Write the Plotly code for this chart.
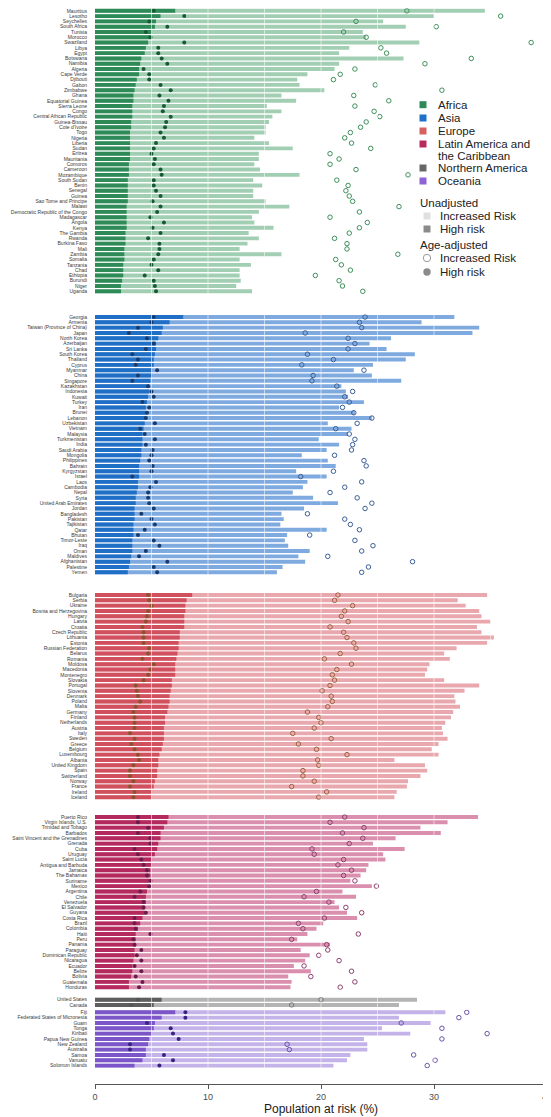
import plotly.graph_objects as go

# ---------------- data ----------------
africa_countries = ["Mauritius", "Lesotho", "Seychelles", "South Africa", "Tunisia", "Morocco", "Swaziland", "Libya", "Egypt", "Botswana", "Namibia", "Algeria", "Cape Verde", "Djibouti", "Gabon", "Zimbabwe", "Ghana", "Equatorial Guinea", "Sierra Leone", "Congo", "Central African Republic", "Guinea-Bissau", "Cote d'Ivoire", "Togo", "Nigeria", "Liberia", "Sudan", "Eritrea", "Mauritania", "Comoros", "Cameroon", "Mozambique", "South Sudan", "Benin", "Senegal", "Guinea", "Sao Tome and Principe", "Malawi", "Democratic Republic of the Congo", "Madagascar", "Angola", "Kenya", "The Gambia", "Rwanda", "Burkina Faso", "Mali", "Zambia", "Somalia", "Tanzania", "Chad", "Ethiopia", "Burundi", "Niger", "Uganda"]
africa_high = [7.1, 5.8, 5.4, 5.3, 5.0, 4.9, 4.7, 4.5, 4.4, 4.1, 4.0, 3.9, 3.9, 3.7, 3.6, 3.5, 3.4, 3.4, 3.3, 3.3, 3.3, 3.2, 3.2, 3.1, 3.1, 3.1, 3.1, 3.1, 3.1, 3.0, 3.0, 3.0, 2.9, 2.9, 2.9, 2.9, 2.9, 2.8, 2.8, 2.8, 2.8, 2.8, 2.7, 2.7, 2.7, 2.6, 2.6, 2.6, 2.5, 2.5, 2.5, 2.4, 2.3, 2.3]
africa_increased = [34.5, 30.0, 25.5, 27.5, 23.7, 24.0, 28.7, 22.5, 21.6, 27.3, 21.6, 21.2, 18.8, 17.9, 18.1, 20.3, 16.5, 17.8, 15.2, 16.5, 15.7, 15.4, 15.1, 15.1, 14.1, 15.4, 17.5, 14.5, 14.5, 14.1, 14.6, 18.1, 14.0, 14.8, 14.0, 14.0, 15.1, 17.2, 14.5, 13.9, 14.1, 15.8, 13.6, 14.5, 13.5, 12.8, 16.5, 12.8, 13.8, 12.8, 12.8, 12.9, 12.5, 13.9]
africa_adj_high = [5.2, 7.9, 4.8, 6.4, 4.5, 4.9, 7.9, 5.6, 5.6, 5.9, 6.4, 4.3, 4.8, 4.8, 5.8, 6.7, 5.7, 6.5, 6.1, 6.0, 6.7, 6.3, 6.2, 5.8, 6.1, 5.4, 5.2, 5.0, 5.3, 5.2, 5.8, 5.9, 5.2, 5.2, 5.4, 5.8, 5.1, 5.8, 5.5, 4.9, 6.1, 5.1, 5.8, 4.7, 5.7, 5.7, 5.6, 5.2, 5.0, 5.6, 4.4, 5.2, 5.3, 5.4]
africa_adj_increased = [27.6, 35.9, 23.1, 30.2, 22.0, 24.0, 38.6, 25.3, 25.8, 33.3, 29.2, 23.0, 21.7, 21.1, 24.8, 30.7, 22.9, 26.0, 23.0, 24.7, 25.2, 24.0, 23.5, 22.6, 22.1, 22.7, 24.4, 20.8, 21.6, 20.8, 23.1, 27.7, 21.4, 22.4, 22.2, 22.5, 22.8, 26.9, 23.4, 20.8, 24.1, 23.4, 22.5, 21.2, 22.3, 22.3, 26.8, 21.3, 21.8, 22.6, 19.5, 21.6, 21.9, 23.7]

asia_countries = ["Georgia", "Armenia", "Taiwan (Province of China)", "Japan", "North Korea", "Azerbaijan", "Sri Lanka", "South Korea", "Thailand", "Cyprus", "Myanmar", "China", "Singapore", "Kazakhstan", "Indonesia", "Kuwait", "Turkey", "Iran", "Brunei", "Lebanon", "Uzbekistan", "Vietnam", "Malaysia", "Turkmenistan", "India", "Saudi Arabia", "Mongolia", "Philippines", "Bahrain", "Kyrgyzstan", "Israel", "Laos", "Cambodia", "Nepal", "Syria", "United Arab Emirates", "Jordan", "Bangladesh", "Pakistan", "Tajikistan", "Qatar", "Bhutan", "Timor-Leste", "Iraq", "Oman", "Maldives", "Afghanistan", "Palestine", "Yemen"]
asia_high = [7.8, 6.6, 6.0, 5.9, 5.6, 5.4, 5.4, 5.3, 5.2, 5.2, 5.0, 5.0, 4.9, 4.8, 4.8, 4.7, 4.6, 4.5, 4.5, 4.5, 4.4, 4.3, 4.2, 4.2, 4.2, 4.1, 4.1, 4.0, 3.9, 3.9, 3.9, 3.8, 3.8, 3.7, 3.6, 3.6, 3.5, 3.5, 3.5, 3.4, 3.4, 3.4, 3.3, 3.3, 3.3, 3.2, 3.1, 3.0, 2.9]
asia_increased = [31.8, 28.9, 34.0, 33.4, 26.2, 24.3, 25.8, 28.3, 27.5, 24.6, 22.9, 24.5, 27.1, 21.8, 22.2, 22.4, 23.8, 21.6, 23.0, 24.5, 20.6, 22.7, 22.4, 19.8, 21.6, 20.5, 18.3, 20.6, 21.3, 17.8, 20.5, 18.8, 18.4, 17.5, 19.3, 21.5, 18.5, 16.5, 16.7, 16.4, 20.5, 17.0, 16.8, 17.1, 19.0, 18.0, 18.6, 16.6, 16.1]
asia_adj_high = [5.2, 5.0, 3.8, 3.0, 4.6, 5.2, 4.5, 3.3, 3.8, 3.6, 5.5, 3.8, 3.3, 4.7, 5.0, 5.2, 4.2, 4.8, 4.6, 4.5, 5.3, 4.0, 4.4, 5.3, 4.5, 5.1, 5.0, 4.8, 5.1, 5.0, 3.3, 5.4, 4.9, 4.7, 4.7, 4.8, 5.2, 4.1, 5.0, 5.3, 4.4, 3.8, 5.2, 5.7, 4.5, 3.9, 6.4, 5.2, 5.5]
asia_adj_increased = [23.9, 23.4, 23.6, 18.6, 22.4, 23.0, 22.4, 18.8, 21.1, 18.3, 23.8, 19.3, 19.2, 21.4, 22.8, 22.1, 22.5, 21.9, 22.9, 24.5, 23.2, 21.3, 22.5, 23.0, 22.8, 22.7, 21.2, 23.8, 24.0, 21.1, 18.2, 23.6, 22.1, 20.8, 23.2, 24.5, 23.9, 18.8, 22.1, 22.6, 23.4, 19.0, 23.0, 24.6, 23.6, 20.6, 28.1, 24.2, 23.6]

europe_countries = ["Bulgaria", "Serbia", "Ukraine", "Bosnia and Herzegovina", "Hungary", "Latvia", "Croatia", "Czech Republic", "Lithuania", "Estonia", "Russian Federation", "Belarus", "Romania", "Moldova", "Macedonia", "Montenegro", "Slovakia", "Portugal", "Slovenia", "Denmark", "Poland", "Malta", "Germany", "Finland", "Netherlands", "Austria", "Italy", "Sweden", "Greece", "Belgium", "Luxembourg", "Albania", "United Kingdom", "Spain", "Switzerland", "Norway", "France", "Ireland", "Iceland"]
europe_high = [8.6, 8.1, 8.0, 8.0, 7.9, 7.9, 7.9, 7.5, 7.5, 7.4, 7.4, 7.3, 7.2, 7.1, 7.1, 7.1, 6.8, 6.8, 6.7, 6.6, 6.6, 6.5, 6.4, 6.2, 6.2, 6.1, 6.1, 6.1, 6.0, 5.9, 5.7, 5.6, 5.6, 5.5, 5.5, 5.3, 5.2, 5.0, 5.0]
europe_increased = [34.7, 32.1, 32.8, 34.0, 34.2, 35.0, 33.8, 34.2, 35.3, 34.7, 32.0, 30.9, 31.4, 29.6, 29.4, 29.2, 30.9, 34.0, 32.7, 31.8, 31.9, 32.3, 31.7, 31.5, 31.0, 30.7, 30.8, 31.2, 30.4, 29.8, 30.4, 26.5, 29.2, 29.4, 28.8, 27.7, 27.6, 26.7, 26.5]
europe_adj_high = [4.7, 4.8, 5.0, 4.7, 4.6, 4.5, 4.2, 4.3, 4.3, 4.3, 4.8, 4.7, 4.2, 5.2, 4.9, 4.7, 4.3, 3.6, 3.7, 3.8, 4.0, 3.6, 3.4, 3.5, 3.5, 3.5, 3.1, 3.5, 3.2, 3.5, 3.8, 3.9, 3.4, 3.1, 3.1, 3.4, 3.1, 3.5, 3.4]
europe_adj_increased = [21.5, 21.2, 22.8, 22.1, 21.8, 22.4, 20.8, 22.0, 22.3, 22.9, 23.1, 21.7, 20.3, 22.7, 21.4, 21.0, 21.2, 20.8, 20.1, 20.9, 21.0, 20.6, 18.8, 19.8, 20.0, 19.4, 17.5, 20.9, 18.0, 19.6, 22.3, 19.7, 19.8, 18.4, 18.4, 19.4, 17.4, 20.5, 19.8]

latam_countries = ["Puerto Rico", "Virgin Islands, U.S.", "Trinidad and Tobago", "Barbados", "Saint Vincent and the Grenadines", "Grenada", "Cuba", "Uruguay", "Saint Lucia", "Antigua and Barbuda", "Jamaica", "The Bahamas", "Suriname", "Mexico", "Argentina", "Chile", "Venezuela", "El Salvador", "Guyana", "Costa Rica", "Brazil", "Colombia", "Haiti", "Peru", "Panama", "Paraguay", "Dominican Republic", "Nicaragua", "Ecuador", "Belize", "Bolivia", "Guatemala", "Honduras"]
latam_high = [6.5, 6.4, 6.1, 5.8, 5.8, 5.6, 5.5, 5.3, 5.0, 5.0, 4.9, 4.9, 4.8, 4.7, 4.6, 4.5, 4.5, 4.4, 4.4, 4.2, 4.0, 3.8, 3.6, 3.6, 3.6, 3.5, 3.5, 3.4, 3.3, 3.3, 3.2, 3.0, 3.0]
latam_increased = [33.9, 31.2, 28.8, 30.6, 26.6, 24.6, 27.4, 25.5, 25.7, 24.2, 24.0, 23.5, 22.6, 24.5, 21.9, 23.1, 21.2, 21.6, 22.3, 23.2, 20.2, 19.6, 18.8, 17.9, 20.8, 18.2, 19.0, 18.6, 17.6, 19.1, 17.1, 17.4, 17.3]
latam_adj_high = [3.8, 3.8, 4.7, 3.8, 4.9, 4.9, 3.5, 3.8, 4.1, 4.3, 4.6, 4.6, 4.9, 4.8, 4.0, 3.5, 4.3, 4.3, 4.5, 3.5, 3.5, 3.6, 4.9, 3.4, 3.5, 4.1, 3.7, 4.1, 3.5, 4.1, 3.6, 4.2, 3.9]
latam_adj_increased = [22.1, 20.8, 23.8, 21.9, 23.7, 22.5, 19.2, 19.4, 22.0, 21.5, 22.7, 22.0, 23.0, 24.9, 19.6, 18.5, 20.7, 22.2, 23.6, 20.3, 18.0, 18.4, 23.3, 17.4, 20.5, 20.6, 19.8, 21.6, 18.5, 22.7, 19.1, 23.0, 21.7]

namerica_countries = ["United States", "Canada"]
namerica_high = [5.9, 5.2]
namerica_increased = [28.5, 26.9]
namerica_adj_high = [3.8, 3.2]
namerica_adj_increased = [20.0, 17.4]

oceania_countries = ["Fiji", "Federated States of Micronesia", "Guam", "Tonga", "Kiribati", "Papua New Guinea", "New Zealand", "Australia", "Samoa", "Vanuatu", "Solomon Islands"]
oceania_high = [7.1, 5.9, 5.3, 5.2, 5.0, 4.8, 4.7, 4.5, 4.5, 4.2, 3.5]
oceania_increased = [31.0, 26.9, 29.7, 25.4, 27.9, 23.8, 24.1, 24.1, 22.6, 22.3, 21.1]
oceania_adj_high = [8.0, 8.0, 4.6, 6.7, 6.9, 7.4, 3.1, 3.1, 6.1, 6.9, 5.7]
oceania_adj_increased = [32.9, 32.2, 27.1, 30.7, 34.7, 30.7, 17.0, 17.2, 28.2, 30.1, 29.4]

region_names = ["Africa", "Asia", "Europe", "Latin America and the Caribbean", "Northern America", "Oceania"]
x_ticks = [0, 10, 20, 30, 40]

# ---------------- styling / layout constants ----------------
# The page body has an 8px margin, so the figure's origin sits at page (8, 8).
OFF = 8
W, H = 551 - OFF, 1117 - OFF
ML, MR, MT, MB = 95 - OFF, 4, 0, 1117 - 1084
PW = W - ML - MR
PH = H - MT - MB

def px_to_py(py_page):
    return (PH - (py_page - OFF - MT)) / PH

def px_to_px(px_page):
    return (px_page - OFF - ML) / PW

# first/last row centre (page px) for each panel
regions = [
    dict(countries=africa_countries, high=africa_high, inc=africa_increased,
         ahigh=africa_adj_high, ainc=africa_adj_increased, first=10.8, last=291.3,
         dark="#2e8b57", light="#a2cfb3", dot="#175a33", circ="#3f8f5c"),
    dict(countries=asia_countries, high=asia_high, inc=asia_increased,
         ahigh=asia_adj_high, ainc=asia_adj_increased, first=317.0, last=572.3,
         dark="#1f6fc6", light="#7eaae0", dot="#1a3b6c", circ="#3b5f98"),
    dict(countries=europe_countries, high=europe_high, inc=europe_increased,
         ahigh=europe_adj_high, ainc=europe_adj_increased, first=595.0, last=797.2,
         dark="#d0505e", light="#e9a7ae", dot="#8a532a", circ="#a0603c"),
    dict(countries=latam_countries, high=latam_high, inc=latam_increased,
         ahigh=latam_adj_high, ainc=latam_adj_increased, first=817.0, last=987.2,
         dark="#b52a5e", light="#d98fad", dot="#6a1d4c", circ="#8e3f6d"),
    dict(countries=namerica_countries, high=namerica_high, inc=namerica_increased,
         ahigh=namerica_adj_high, ainc=namerica_adj_increased, first=999.7, last=1005.0,
         dark="#5e5e5e", light="#b4b4b4", dot="#555555", circ="#777777"),
    dict(countries=oceania_countries, high=oceania_high, inc=oceania_increased,
         ahigh=oceania_adj_high, ainc=oceania_adj_increased, first=1012.3, last=1065.6,
         dark="#7c56c9", light="#c4b3e8", dot="#3b2180", circ="#6c52a8"),
]

FONT_FAMILY = "Liberation Sans, Arial, sans-serif"
fig = go.Figure()
layout = dict(
    width=W, height=H, autosize=False,
    margin=dict(l=ML, r=MR, t=MT, b=MB, pad=0, autoexpand=False),
    paper_bgcolor="white", plot_bgcolor="white",
    barmode="overlay", showlegend=False,
    font=dict(family=FONT_FAMILY, color="#333333"),
    xaxis=dict(domain=[0, 1], anchor="free", position=0, range=[0, 40],
               tickmode="array", tickvals=x_ticks, ticktext=[str(v) for v in x_ticks],
               showgrid=False, zeroline=False, showline=True, linecolor="#555555",
               linewidth=1, ticks="outside", ticklen=4, tickcolor="#555555",
               ticklabeloverflow="allow",
               tickfont=dict(size=9, color="#4d4d4d"), automargin=False),
)
shapes = []
annotations = []

for i, r in enumerate(regions):
    k = i + 1
    ya = "y" if k == 1 else f"y{k}"
    yname = "yaxis" if k == 1 else f"yaxis{k}"
    n = len(r["countries"])
    row = (r["last"] - r["first"]) / (n - 1)
    top = r["first"] - row / 2
    bot = r["last"] + row / 2
    range_top = -0.5
    if top < OFF:
        range_top = -0.5 + (OFF - top) / row
        top = OFF
    layout[yname] = dict(
        domain=[px_to_py(bot), min(1.0, px_to_py(top))], anchor="x",
        type="category", categoryorder="array", categoryarray=r["countries"],
        tickmode="array", tickvals=r["countries"], ticktext=r["countries"],
        range=[n - 0.5, range_top], showgrid=False, zeroline=False, showline=False,
        ticks="", ticklabelstandoff=7, automargin=False,
        tickfont=dict(size=5, color="#3a3a3a"),
    )
    fig.add_trace(go.Bar(x=r["inc"], y=r["countries"], orientation="h", width=0.74,
                         marker=dict(color=r["light"], line=dict(width=0)),
                         xaxis="x", yaxis=ya, name=region_names[i] + " increased risk"))
    fig.add_trace(go.Bar(x=r["high"], y=r["countries"], orientation="h", width=0.74,
                         marker=dict(color=r["dark"], line=dict(width=0)),
                         xaxis="x", yaxis=ya, name=region_names[i] + " high risk"))
    fig.add_trace(go.Scatter(x=r["ainc"], y=r["countries"], mode="markers",
                             marker=dict(symbol="circle-open", size=4.5, color=r["circ"], line=dict(width=1)),
                             xaxis="x", yaxis=ya, name=region_names[i] + " age-adjusted increased"))
    fig.add_trace(go.Scatter(x=r["ahigh"], y=r["countries"], mode="markers",
                             marker=dict(symbol="circle", size=4, color=r["dot"]),
                             xaxis="x", yaxis=ya, name=region_names[i] + " age-adjusted high"))
    yref = "y domain" if k == 1 else f"y{k} domain"
    for v in [5, 10, 15, 20, 25, 30, 35]:
        shapes.append(dict(type="line", xref="x", yref=yref, x0=v, x1=v, y0=0, y1=1,
                           line=dict(color="white", width=1), opacity=0.55, layer="above"))

# x-axis title
annotations.append(dict(text="Population at risk (%)", xref="paper", yref="paper",
                        x=0.5, y=px_to_py(1109), xanchor="center", yanchor="middle",
                        showarrow=False, font=dict(size=12, color="#1a1a1a", family=FONT_FAMILY)))

# ---------------- legend (drawn manually) ----------------
legend_regions = [
    ("Africa", "#2e8b57", 104.7),
    ("Asia", "#1f70c8", 118.0),
    ("Europe", "#d65f5f", 131.0),
    ("Latin America and", "#b82a5e", 144.0),
    ("Northern America", "#666666", 168.0),
    ("Oceania", "#8e63d6", 181.0),
]
LFONT = dict(size=11.5, color="#222222", family=FONT_FAMILY)
for label, col, py in legend_regions:
    cx = 423
    shapes.append(dict(type="rect", xref="paper", yref="paper",
                       x0=px_to_px(cx - 3.5), x1=px_to_px(cx + 3.5),
                       y0=px_to_py(py + 3.5), y1=px_to_py(py - 3.5),
                       fillcolor=col, line=dict(width=0), layer="above"))
    annotations.append(dict(text=label, xref="paper", yref="paper", x=px_to_px(436), y=px_to_py(py),
                            xanchor="left", yanchor="middle", showarrow=False, font=LFONT))
annotations.append(dict(text="the Caribbean", xref="paper", yref="paper", x=px_to_px(436), y=px_to_py(155.5),
                        xanchor="left", yanchor="middle", showarrow=False, font=LFONT))

annotations.append(dict(text="Unadjusted", xref="paper", yref="paper", x=px_to_px(418), y=px_to_py(203),
                        xanchor="left", yanchor="middle", showarrow=False, font=LFONT))
for label, col, py in [("Increased Risk", "#e0e0e0", 216.0), ("High risk", "#8a8a8a", 229.0)]:
    cx = 427
    shapes.append(dict(type="rect", xref="paper", yref="paper",
                       x0=px_to_px(cx - 3.5), x1=px_to_px(cx + 3.5),
                       y0=px_to_py(py + 3.5), y1=px_to_py(py - 3.5),
                       fillcolor=col, line=dict(width=0), layer="above"))
    annotations.append(dict(text=label, xref="paper", yref="paper", x=px_to_px(438), y=px_to_py(py),
                            xanchor="left", yanchor="middle", showarrow=False, font=LFONT))

annotations.append(dict(text="Age-adjusted", xref="paper", yref="paper", x=px_to_px(418), y=px_to_py(245),
                        xanchor="left", yanchor="middle", showarrow=False, font=LFONT))
for label, filled, py in [("Increased Risk", False, 258.0), ("High risk", True, 272.0)]:
    cx = 427
    shapes.append(dict(type="circle", xref="paper", yref="paper",
                       x0=px_to_px(cx - 3.7), x1=px_to_px(cx + 3.7),
                       y0=px_to_py(py + 3.7), y1=px_to_py(py - 3.7),
                       fillcolor="#8a8a8a" if filled else "white",
                       line=dict(width=0 if filled else 1, color="#9a9a9a"), layer="above"))
    annotations.append(dict(text=label, xref="paper", yref="paper", x=px_to_px(438), y=px_to_py(py),
                            xanchor="left", yanchor="middle", showarrow=False, font=LFONT))

layout["shapes"] = shapes
layout["annotations"] = annotations
fig.update_layout(**layout)
fig.write_html("out.html")
